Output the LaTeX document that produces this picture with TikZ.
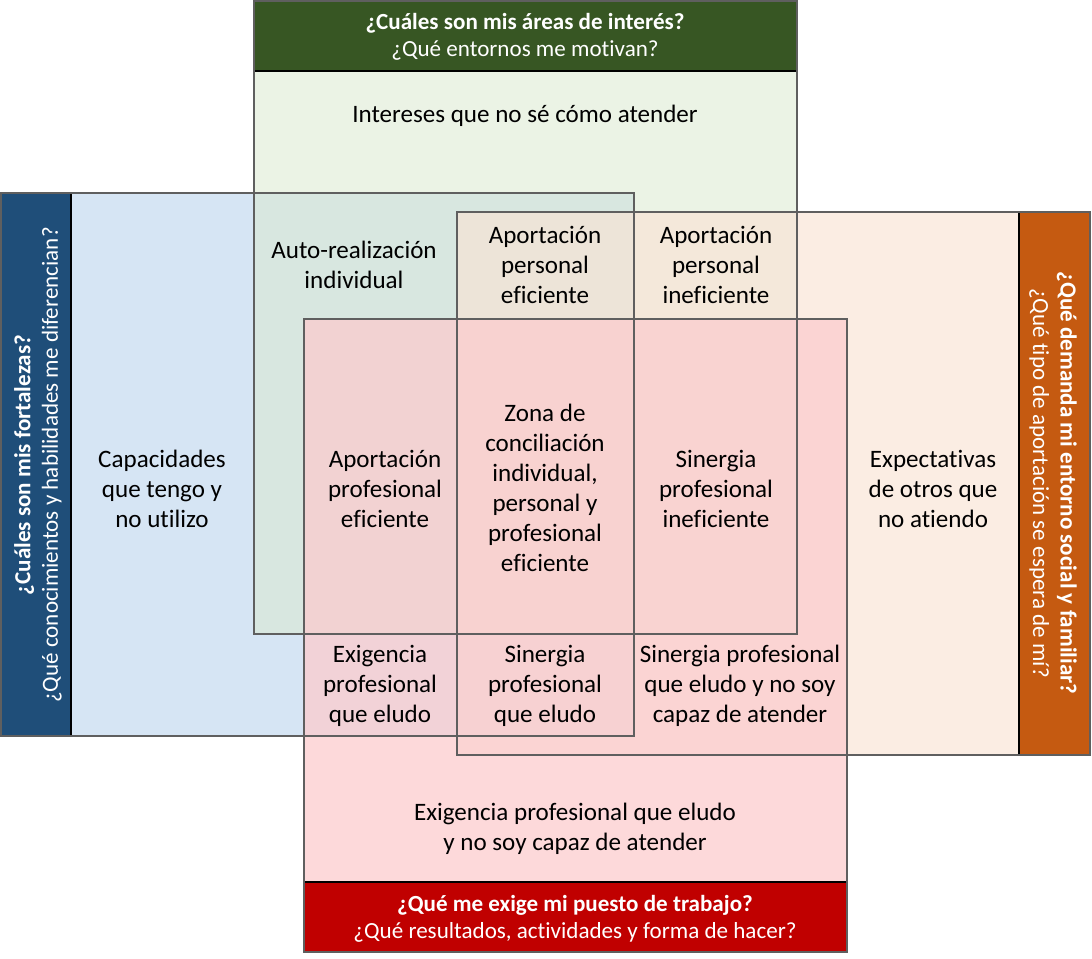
\documentclass[tikz,border=0pt]{standalone}
\usepackage{fontspec}
\setmainfont[Ligatures=NoCommon]{Carlito}
\usetikzlibrary{positioning}

\definecolor{greenhead}{HTML}{375623}
\definecolor{bluehead}{HTML}{1F4E79}
\definecolor{orangehead}{HTML}{C55A11}
\definecolor{redhead}{HTML}{C00000}
\definecolor{bluefill}{HTML}{D6E5F4}
\definecolor{greenfill}{HTML}{DBE9D0}
\definecolor{orangefill}{HTML}{F9E3D4}
\definecolor{redfill}{HTML}{FCCCCE}
\definecolor{framegray}{HTML}{5F5F5F}

\begin{document}
\begin{tikzpicture}[x=0.75pt, y=-0.75pt,
  frame/.style = {draw=framegray, line width=1.6pt},
  sep/.style = {draw=black, line width=0.8pt},
  zone/.style = {align=center, inner sep=0pt, font=\fontsize{18.8}{22.5}\selectfont},
  head/.style = {align=center, inner sep=0pt, text=white, font=\fontsize{17.3}{20.5}\selectfont}]
\useasboundingbox (0,0) rectangle (1092,959);

% the four areas
\fill[bluefill] (1,193) rectangle (634,736);
\fill[greenfill, fill opacity=0.55] (254,1) rectangle (797,634);
\fill[orangefill, fill opacity=0.65] (457,212) rectangle (1090,755);
\fill[redfill, fill opacity=0.75] (304,319) rectangle (847,952);

% header bands
\fill[greenhead] (254,1) rectangle (797,71);
\fill[bluehead] (1,193) rectangle (71,736);
\fill[orangehead] (1019,212) rectangle (1090,755);
\fill[redhead] (304,882) rectangle (847,952);
\draw[sep] (254,71) -- (797,71);
\draw[sep] (71,193) -- (71,736);
\draw[sep] (1019,212) -- (1019,755);
\draw[sep] (304,882) -- (847,882);

% frames
\draw[frame] (254,1) rectangle (797,634);
\draw[frame] (1,193) rectangle (634,736);
\draw[frame] (457,212) rectangle (1090,755);
\draw[frame] (304,319) rectangle (847,952);

% headers
\node[head] (hinteres) at (525,37) {\textbf{¿Cuáles son mis áreas de interés?}\\¿Qué entornos me motivan?};
\node[head, rotate=90] (hfuerza) at (38,465) {\textbf{¿Cuáles son mis fortalezas?}\\¿Qué conocimientos y habilidades me diferencian?};
\node[head, rotate=-90] (hentorno) at (1053,483) {\textbf{¿Qué demanda mi entorno social y familiar?}\\¿Qué tipo de aportación se espera de mí?};
\node[head] (hpuesto) at (575,919) {\textbf{¿Qué me exige mi puesto de trabajo?}\\¿Qué resultados, actividades y forma de hacer?};

% zones
\node[zone] (intereses) at (525,116) {Intereses que no sé cómo atender};
\node[zone] (capacidades) at (162,489) {Capacidades\\que tengo y\\no utilizo};
\node[zone] (expectativas) at (933,489) {Expectativas\\de otros que\\no atiendo};
\node[zone] (exigencia) at (575,829) {Exigencia profesional que eludo\\y no soy capaz de atender};
\node[zone] (autorreal) at (354,265) {Auto-realización\\individual};
\node[zone] (apersef) at (545,265) {Aportación\\personal\\eficiente};
\node[zone] (apersinef) at (716,265) {Aportación\\personal\\ineficiente};
\node[zone] (aprofef) at (385,489) {Aportación\\profesional\\eficiente};
\node[zone] (conciliacion) at (545,488) {Zona de\\conciliación\\individual,\\personal y\\profesional\\eficiente};
\node[zone] (sinerinef) at (716,489) {Sinergia\\profesional\\ineficiente};
\node[zone] (exigeludo) at (380,686) {Exigencia\\profesional\\que eludo};
\node[zone] (sinereludo) at (545,686) {Sinergia\\profesional\\que eludo};
\node[zone] (sinercapaz) at (740,686) {Sinergia profesional\\que eludo y no soy\\capaz de atender};
\end{tikzpicture}
\end{document}
